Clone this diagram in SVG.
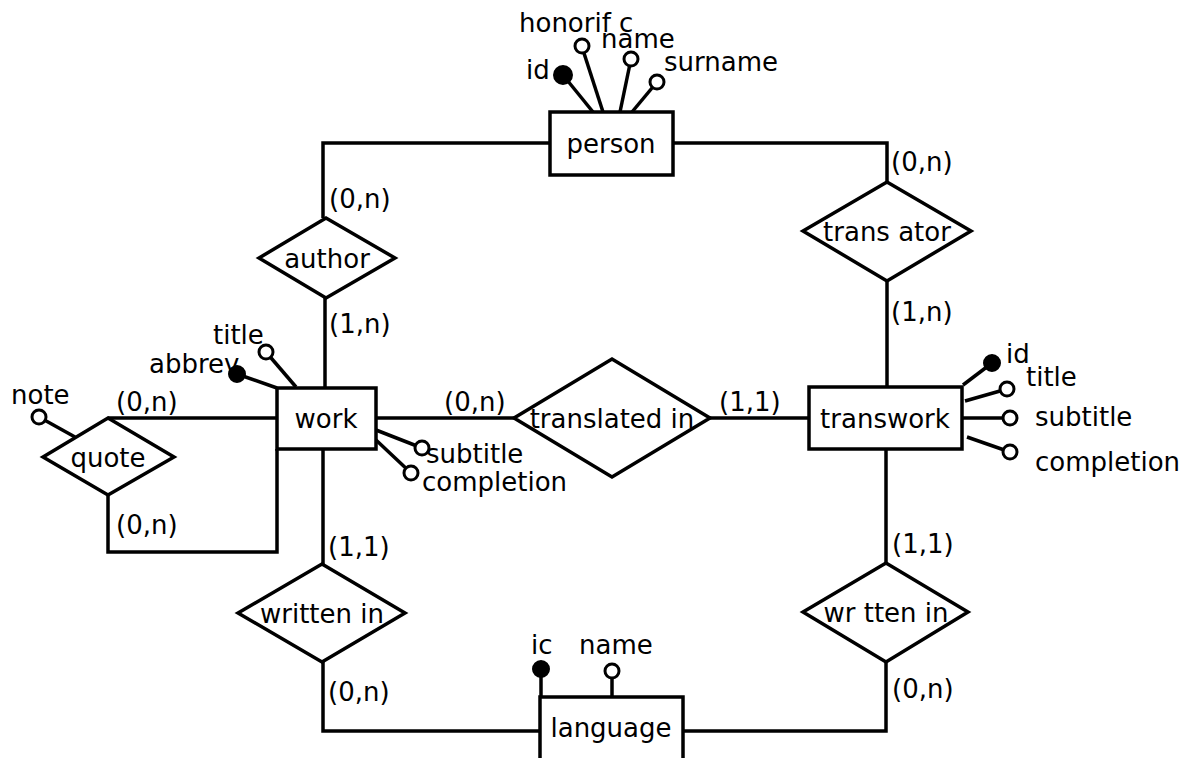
<svg xmlns="http://www.w3.org/2000/svg" width="1192" height="758" viewBox="0 0 1192 758">
<style>
text{font-family:"DejaVu Sans","Liberation Sans",sans-serif;font-size:26px;fill:#000}
.c{text-anchor:middle}
.shape{fill:#fff;stroke:#000;stroke-width:3.5}
.ln{fill:none;stroke:#000;stroke-width:3.5}
.open{fill:#fff;stroke:#000;stroke-width:3}
.key{fill:#000;stroke:#000;stroke-width:2}
</style>
<rect width="1192" height="758" fill="#fff"/>
<g id="connectors">
<polyline class="ln" points="550,143 323,143 323,218"/>
<polyline class="ln" points="673,143 887,143 887,182"/>
<line class="ln" x1="325" y1="298" x2="325" y2="388"/>
<line class="ln" x1="887" y1="281" x2="887" y2="387"/>
<line class="ln" x1="376" y1="418" x2="514" y2="418"/>
<line class="ln" x1="710" y1="418" x2="809" y2="418"/>
<line class="ln" x1="108" y1="418" x2="277" y2="418"/>
<polyline class="ln" points="108,495 108,552 277,552 277,449"/>
<polyline class="ln" points="323,449 323,564"/>
<polyline class="ln" points="323,662 323,731 540,731"/>
<polyline class="ln" points="886,449 886,563"/>
<polyline class="ln" points="886,662 886,731 683,731"/>
<text x="329" y="208">(0,n)</text>
<text x="329" y="333">(1,n)</text>
<text x="891" y="171">(0,n)</text>
<text x="891" y="321">(1,n)</text>
<text x="444" y="411">(0,n)</text>
<text x="719" y="411">(1,1)</text>
<text x="116" y="411">(0,n)</text>
<text x="116" y="534">(0,n)</text>
<text x="328" y="556">(1,1)</text>
<text x="328" y="701">(0,n)</text>
<text x="892" y="553">(1,1)</text>
<text x="892" y="698">(0,n)</text>
</g>
<g id="person">
<line class="ln" x1="563" y1="75" x2="593" y2="112"/>
<line class="ln" x1="582" y1="47" x2="603" y2="112"/>
<line class="ln" x1="631" y1="59" x2="620" y2="112"/>
<line class="ln" x1="657" y1="82" x2="632" y2="112"/>
<circle class="key" cx="563" cy="75" r="9"/>
<circle class="open" cx="582" cy="46" r="7"/>
<circle class="open" cx="631" cy="59" r="7"/>
<circle class="open" cx="657" cy="82" r="7"/>
<text x="526" y="79">id</text>
<text x="519" y="32">honorif c</text>
<text x="601" y="48">name</text>
<text x="664" y="71">surname</text>
<rect class="shape" x="550" y="112" width="123" height="63"/>
<text class="c" x="611" y="153">person</text>
</g>
<g id="author">
<polygon class="shape" points="259,258 326,218 395,258 326,298"/>
<text class="c" x="327" y="268">author</text>
</g>
<g id="translator">
<polygon class="shape" points="803,231 887,182 971,231 887,281"/>
<text class="c" x="887" y="241">trans ator</text>
</g>
<g id="work">
<line class="ln" x1="237" y1="374" x2="277" y2="388"/>
<line class="ln" x1="266" y1="352" x2="296" y2="387"/>
<line class="ln" x1="376" y1="430" x2="422" y2="448"/>
<line class="ln" x1="376" y1="440" x2="411" y2="473"/>
<text x="213" y="344">title</text>
<text x="149" y="373">abbrev</text>
<circle class="key" cx="237" cy="374" r="8"/>
<circle class="open" cx="266" cy="352" r="7"/>
<circle class="open" cx="422" cy="448" r="7"/>
<circle class="open" cx="411" cy="473" r="7"/>
<text x="426" y="463">subtitle</text>
<text x="422" y="491">completion</text>
<rect class="shape" x="277" y="388" width="99" height="61"/>
<text class="c" x="326" y="428">work</text>
</g>
<g id="quote">
<line class="ln" x1="39" y1="417" x2="75" y2="437"/>
<circle class="open" cx="39" cy="417" r="7"/>
<text x="11" y="404">note</text>
<polygon class="shape" points="43,457 108,418 174,457 108,495"/>
<text class="c" x="108" y="467">quote</text>
</g>
<g id="translated_in">
<polygon class="shape" points="514,418 612,359 710,418 612,477"/>
<text class="c" x="612" y="428">translated in</text>
</g>
<g id="transwork">
<line class="ln" x1="963" y1="385" x2="992" y2="363"/>
<line class="ln" x1="965" y1="401" x2="1007" y2="389"/>
<line class="ln" x1="962" y1="418" x2="1010" y2="418"/>
<line class="ln" x1="967" y1="437" x2="1010" y2="452"/>
<circle class="key" cx="992" cy="363" r="8"/>
<circle class="open" cx="1007" cy="389" r="7"/>
<circle class="open" cx="1010" cy="418" r="7"/>
<circle class="open" cx="1010" cy="452" r="7"/>
<text x="1006" y="363">id</text>
<text x="1026" y="386">title</text>
<text x="1035" y="426">subtitle</text>
<text x="1035" y="471">completion</text>
<rect class="shape" x="809" y="387" width="153" height="62"/>
<text class="c" x="885" y="428">transwork</text>
</g>
<g id="written_in_work">
<polygon class="shape" points="238,613 322,564 405,613 322,662"/>
<text class="c" x="322" y="623">written in</text>
</g>
<g id="written_in_transwork">
<polygon class="shape" points="803,612 886,563 968,612 886,662"/>
<text class="c" x="886" y="622">wr tten in</text>
</g>
<g id="language">
<line class="ln" x1="541" y1="669" x2="541" y2="697"/>
<line class="ln" x1="612" y1="671" x2="612" y2="697"/>
<circle class="key" cx="541" cy="669" r="8"/>
<circle class="open" cx="612" cy="671" r="7"/>
<text x="531" y="654">ic</text>
<text x="579" y="654">name</text>
<rect class="shape" x="540" y="697" width="143" height="80"/>
<text class="c" x="611" y="737">language</text>
</g>
</svg>
